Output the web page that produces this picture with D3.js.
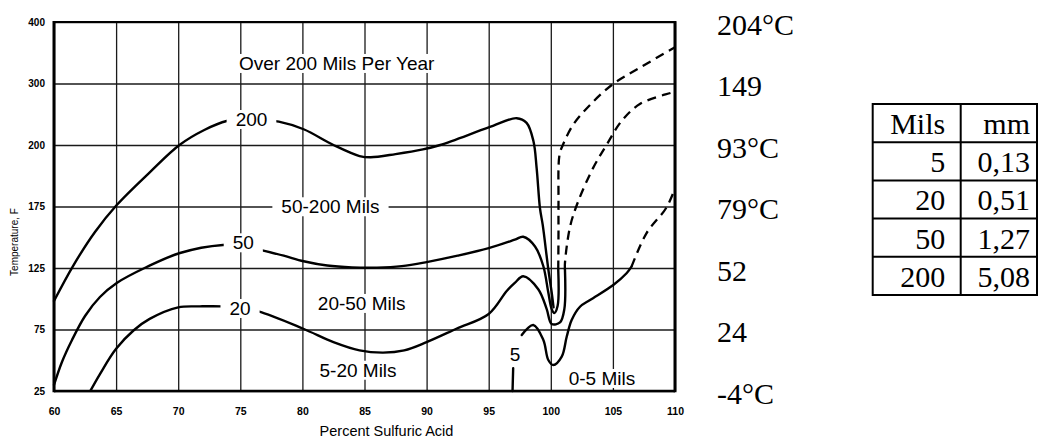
<!DOCTYPE html>
<html>
<head>
<meta charset="utf-8">
<script src="https://cdn.jsdelivr.net/npm/d3@7"></script>
<style>
  html, body { margin: 0; padding: 0; background: #fff; }
  svg { display: block; }
</style>
</head>
<body>
<svg id="chart" width="1038" height="441"></svg>
<script>
// ---------------- DATA ----------------
const xTicks = [60, 65, 70, 75, 80, 85, 90, 95, 100, 105, 110];
const yTicks = [25, 75, 125, 175, 200, 300, 400];
const celsiusLabels = ["-4°C", "24", "52", "79°C", "93°C", "149", "204°C"];

// iso-corrosion curves: [percent H2SO4, temperature °F]
const curve200Solid = [[60,98.2],[61.53,126.6],[63.3,154.3],[65.05,175.6],[67.73,189],[70.1,200],[72.1,224.4],[73.9,239],[76,242],[78.1,238],[80.1,225.6],[82.5,200],[84.6,195.5],[85.5,195],[87.5,196.3],[89.7,198.2],[91.1,200],[95,228.5],[97.25,243.6],[98.05,236],[98.6,206.5],[98.86,190.6],[99.13,173.4],[99.35,160],[99.8,124],[100.1,103],[100.22,93]];
const curve50Solid = [[60,29.9],[60.64,48.6],[61.45,66.5],[62.5,86],[63.7,101.4],[65.05,112.8],[67.46,125.8],[70.14,137.2],[73.6,143.7],[75.2,143.2],[76.6,139.8],[78.5,135],[80.1,130.5],[82,127],[84,125.5],[86,125.3],[88,126.5],[90,129.8],[92.5,135],[95,141.1],[97.1,148],[97.78,150.4],[98.73,142.5],[99.4,126.4],[99.8,105],[100.07,91.6],[100.28,88.4],[100.55,94.3],[100.6,123.7]];
const curve50Dashed = [[100.6,123.7],[100.62,154.6],[100.62,177],[100.7,196],[100.98,200.5],[101.8,233],[103.2,266],[105.0,299],[107.2,326],[110,359]];
const curve20Solid = [[62.95,25.5],[63.7,38.8],[65,59.3],[66.4,74.2],[67.7,83.6],[70,93],[71.75,93.8],[73.5,93.8],[75,92],[76.45,89.7],[80.07,75.6],[82.5,64.7],[84.6,58],[86.5,56.2],[88.2,58],[90,64.7],[92.4,75.6],[95,87.6],[96.45,106.3],[97.1,112.9],[97.78,118.3],[98.99,107.7],[99.67,91.6],[100.07,79.5],[100.74,80.8],[101.09,91.6],[101.14,123.7]];
const curve20Dashed = [[101.14,123.7],[101.14,129],[101.55,158.6],[102.2,177],[103.4,190.6],[104.5,200.5],[105.7,239],[107.2,267],[109.7,285],[110,287]];
const curve5Stub = [[96.92,25],[96.97,43.5]];
const curve5Solid = [[97.66,70.5],[98.59,78.7],[99.4,66.5],[99.8,50.2],[100.2,46.1],[100.88,52.9],[101.28,69.1],[101.68,82.7],[102.35,93.5],[103.16,99],[105.03,111.2],[106.1,120.7],[106.5,126.1]];
const curve5Dashed = [[106.5,126.1],[107.7,153.2],[109.3,174],[110,182.4]];

// region / curve labels: text, percent, temperature °F
const labelTexts = ["Over 200 Mils Per Year", "200", "50-200 Mils", "50", "20", "20-50 Mils", "5-20 Mils", "5", "0-5 Mils"];
const labelPercent = [82.76, 75.9, 82.26, 75.24, 74.98, 84.77, 84.48, 97.12, 104.12];
const labelTemp = [322, 230.9, 169.5, 140.2, 86.8, 90.9, 36.6, 49.4, 29.9];

// conversion table
const tableHeader = ["Mils", "mm"];
const tableMils = ["5", "20", "50", "200"];
const tableMm = ["0,13", "0,51", "1,27", "5,08"];

// ---------------- LAYOUT ----------------
const plot = { left: 54, right: 675, top: 22, bottom: 391 };
const svg = d3.select("#chart");
const sans = "'Liberation Sans', Arial, sans-serif";
const serif = "'Liberation Serif', 'Times New Roman', serif";

const x = d3.scaleLinear().domain([60, 110]).range([plot.left, plot.right]);
const yStep = (plot.bottom - plot.top) / (yTicks.length - 1);
const y = d3.scaleLinear().domain(yTicks).range(yTicks.map((d, i) => plot.bottom - i * yStep));

// grid
const gGrid = svg.append("g");
gGrid.append("g")
  .attr("transform", `translate(0,${plot.bottom})`)
  .call(d3.axisBottom(x).tickValues(xTicks).tickSize(-(plot.bottom - plot.top)).tickFormat(""))
  .call(g => g.select(".domain").remove())
  .call(g => g.selectAll(".tick line").attr("stroke", "#1a1a1a").attr("stroke-width", 1.3));
gGrid.append("g")
  .attr("transform", `translate(${plot.left},0)`)
  .call(d3.axisLeft(y).tickValues(yTicks).tickSize(-(plot.right - plot.left)).tickFormat(""))
  .call(g => g.select(".domain").remove())
  .call(g => g.selectAll(".tick line").attr("stroke", "#1a1a1a").attr("stroke-width", 1.3));

// curves
const line = d3.line().x(d => x(d[0])).y(d => y(d[1])).curve(d3.curveCatmullRom.alpha(0.5));
const gCurves = svg.append("g").attr("fill", "none").attr("stroke", "#000").attr("stroke-linecap", "round");
[curve200Solid, curve50Solid, curve20Solid, curve5Stub, curve5Solid].forEach(c => {
  gCurves.append("path").attr("d", line(c)).attr("stroke-width", 2.4);
});
[curve50Dashed, curve20Dashed, curve5Dashed].forEach(c => {
  gCurves.append("path").attr("d", line(c)).attr("stroke-width", 2.3)
    .attr("stroke-linecap", "butt").attr("stroke-dasharray", "9,6");
});

// labels with white backgrounds
const gLabels = svg.append("g");
labelTexts.forEach((t, i) => {
  const g = gLabels.append("g");
  const txt = g.append("text")
    .attr("x", x(labelPercent[i])).attr("y", y(labelTemp[i]))
    .attr("text-anchor", "middle")
    .attr("font-family", sans).attr("font-size", 19)
    .attr("fill", "#000").text(t);
  const bb = txt.node().getBBox();
  g.insert("rect", "text")
    .attr("x", bb.x - 9).attr("y", bb.y + 1).attr("width", bb.width + 18).attr("height", bb.height - 2)
    .attr("fill", "#fff");
});

// frame
const gFrame = svg.append("g").attr("stroke", "#000");
gFrame.append("line").attr("x1", plot.left).attr("x2", plot.left).attr("y1", plot.top - 1).attr("y2", plot.bottom + 1.2).attr("stroke-width", 3);
gFrame.append("line").attr("x1", plot.right).attr("x2", plot.right).attr("y1", plot.top - 1).attr("y2", plot.bottom + 1.2).attr("stroke-width", 3);
gFrame.append("line").attr("x1", plot.left).attr("x2", plot.right).attr("y1", plot.top).attr("y2", plot.top).attr("stroke-width", 2.2);
gFrame.append("line").attr("x1", plot.left).attr("x2", plot.right).attr("y1", plot.bottom).attr("y2", plot.bottom).attr("stroke-width", 2.5);

// tick labels
svg.append("g")
  .attr("transform", `translate(${plot.left},0)`)
  .call(d3.axisLeft(y).tickValues(yTicks).tickSize(0).tickPadding(9).tickFormat(d3.format("d")))
  .call(g => g.select(".domain").remove())
  .call(g => g.selectAll("text").attr("font-family", sans).attr("font-size", 10).attr("font-weight", "bold").attr("fill", "#000"));
svg.append("g")
  .attr("transform", `translate(0,${plot.bottom})`)
  .call(d3.axisBottom(x).tickValues(xTicks).tickSize(0).tickPadding(17).tickFormat(d3.format("d")))
  .call(g => g.select(".domain").remove())
  .call(g => g.selectAll("text").attr("font-family", sans).attr("font-size", 10.5).attr("font-weight", "bold").attr("fill", "#000"));

// axis titles
svg.append("text")
  .attr("x", (plot.left + plot.right) / 2 + 22).attr("y", 436)
  .attr("text-anchor", "middle").attr("font-family", sans).attr("font-size", 14.5)
  .text("Percent Sulfuric Acid");
svg.append("text")
  .attr("transform", `translate(17.5,242) rotate(-90)`)
  .attr("text-anchor", "middle").attr("font-family", sans).attr("font-size", 10)
  .text("Temperature, F");

// Celsius equivalents
svg.append("g").selectAll("text").data(celsiusLabels).join("text")
  .attr("x", 717).attr("y", (d, i) => y(yTicks[i]) + 12.5)
  .attr("font-family", serif).attr("font-size", 30).attr("fill", "#000")
  .text(d => d);

// conversion table
const tbl = { left: 872.7, mid: 960.7, right: 1037, top: 104, rowH: 38.2 };
const rows = [tableHeader].concat(tableMils.map((m, i) => [m, tableMm[i]]));
const gT = svg.append("g");
rows.forEach((r, i) => {
  const yt = tbl.top + i * tbl.rowH;
  gT.append("text").attr("x", tbl.mid - 15.5).attr("y", yt + 30).attr("text-anchor", "end")
    .attr("font-family", serif).attr("font-size", 30).text(r[0]);
  gT.append("text").attr("x", tbl.right - 7).attr("y", yt + 30).attr("text-anchor", "end")
    .attr("font-family", serif).attr("font-size", 30).text(r[1]);
});
const gTL = gT.append("g").attr("stroke", "#000").attr("stroke-width", 2);
d3.range(rows.length + 1).forEach(i => {
  gTL.append("line").attr("x1", tbl.left).attr("x2", tbl.right)
    .attr("y1", tbl.top + i * tbl.rowH).attr("y2", tbl.top + i * tbl.rowH);
});
[tbl.left, tbl.mid, tbl.right].forEach(xx => {
  gTL.append("line").attr("x1", xx).attr("x2", xx)
    .attr("y1", tbl.top - 1).attr("y2", tbl.top + rows.length * tbl.rowH + 1);
});
</script>
</body>
</html>
